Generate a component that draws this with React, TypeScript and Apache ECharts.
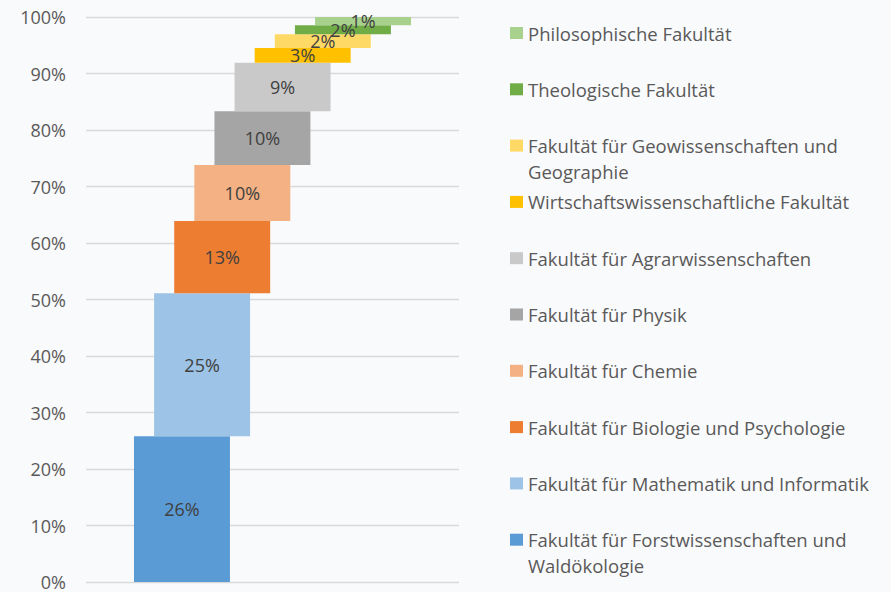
import React, { useEffect, useRef } from 'react';
import * as echarts from 'echarts';

const FACULTIES = [
  'Fakultät für Forstwissenschaften und Waldökologie',
  'Fakultät für Mathematik und Informatik',
  'Fakultät für Biologie und Psychologie',
  'Fakultät für Chemie',
  'Fakultät für Physik',
  'Fakultät für Agrarwissenschaften',
  'Wirtschaftswissenschaftliche Fakultät',
  'Fakultät für Geowissenschaften und Geographie',
  'Theologische Fakultät',
  'Philosophische Fakultät',
];

const LEGEND_LINES = [
  ['Fakultät für Forstwissenschaften und', 'Waldökologie'],
  ['Fakultät für Mathematik und Informatik'],
  ['Fakultät für Biologie und Psychologie'],
  ['Fakultät für Chemie'],
  ['Fakultät für Physik'],
  ['Fakultät für Agrarwissenschaften'],
  ['Wirtschaftswissenschaftliche Fakultät'],
  ['Fakultät für Geowissenschaften und', 'Geographie'],
  ['Theologische Fakultät'],
  ['Philosophische Fakultät'],
];

const SHARES = [25.8, 25.3, 12.8, 9.9, 9.5, 8.6, 2.6, 2.45, 1.6, 1.45];

const COLORS = [
  '#5B9BD5', '#9DC3E6', '#ED7D31', '#F4B183', '#A5A5A5',
  '#C9C9C9', '#FFC000', '#FFD966', '#70AD47', '#A9D18E',
];

const FONT = 'Open Sans';
const BAR_W = 4.77; // bar width in x-axis units (one step between bars = 1)
const LEGEND_FIRST = 33;
const LEGEND_STEP = 56.3;
const LINE_H = 26;

export default function App() {
  const ref = useRef<HTMLDivElement>(null);

  useEffect(() => {
    if (!ref.current) return;
    const chart = echarts.init(ref.current, undefined, { renderer: 'svg' });

    let acc = 0;
    const series = SHARES.map((v, i) => {
      const start = acc;
      acc += v;
      const end = acc;
      return {
        type: 'custom',
        name: FACULTIES[i],
        itemStyle: { color: COLORS[i] },
        data: [[i, start, end, v]],
        encode: { x: 0, y: [1, 2] },
        renderItem: (params: any, api: any) => {
          const x = api.value(0);
          const p0 = api.coord([x, api.value(1)]);
          const p1 = api.coord([x, api.value(2)]);
          const w = api.size([BAR_W, 0])[0];
          return {
            type: 'rect',
            shape: { x: p0[0] - w / 2, y: p1[1], width: w, height: p0[1] - p1[1] },
            style: { fill: COLORS[i] },
            textContent: {
              style: {
                text: Math.round(api.value(3)) + '%',
                fill: '#404040',
                fontSize: 18,
                fontFamily: FONT,
              },
            },
            textConfig: { position: 'inside' },
          };
        },
      };
    });

    const legends = FACULTIES.map((name, i) => {
      const row = FACULTIES.length - 1 - i;
      const lines = LEGEND_LINES[i];
      const wrapped = lines.length > 1;
      // wrapped entries get a leading empty line so that the first line sits beside the icon
      const label = wrapped ? '\n' + lines.join('\n') : lines[0];
      return {
        orient: 'vertical',
        left: 510,
        top: LEGEND_FIRST + LEGEND_STEP * row - LINE_H / 2 - (wrapped ? LINE_H : 0),
        padding: 0,
        itemWidth: 13,
        itemHeight: 12,
        icon: 'rect',
        selectedMode: false,
        data: [name],
        formatter: () => label,
        textStyle: {
          fontFamily: FONT,
          fontSize: 18.5,
          color: '#595959',
          lineHeight: LINE_H,
        },
      };
    });

    chart.setOption({
      animation: false,
      backgroundColor: '#F9FAFC',
      grid: { left: 86, right: 432, top: 17, bottom: 10 },
      xAxis: {
        type: 'value',
        min: -BAR_W,
        max: SHARES.length - 1 + BAR_W,
        show: false,
      },
      yAxis: {
        type: 'value',
        min: 0,
        max: 100,
        interval: 10,
        axisLine: { show: false },
        axisTick: { show: false },
        axisLabel: {
          formatter: '{value}%',
          color: '#595959',
          fontSize: 18,
          lineHeight: 14,
          fontFamily: FONT,
          margin: 20,
        },
        splitLine: { lineStyle: { color: '#D9D9D9', width: 1.3 } },
      },
      legend: legends,
      series,
    });

    return () => chart.dispose();
  }, []);

  return (
    <div
      ref={ref}
      style={{ position: 'fixed', left: 0, top: 0, width: 891, height: 592 }}
    />
  );
}
